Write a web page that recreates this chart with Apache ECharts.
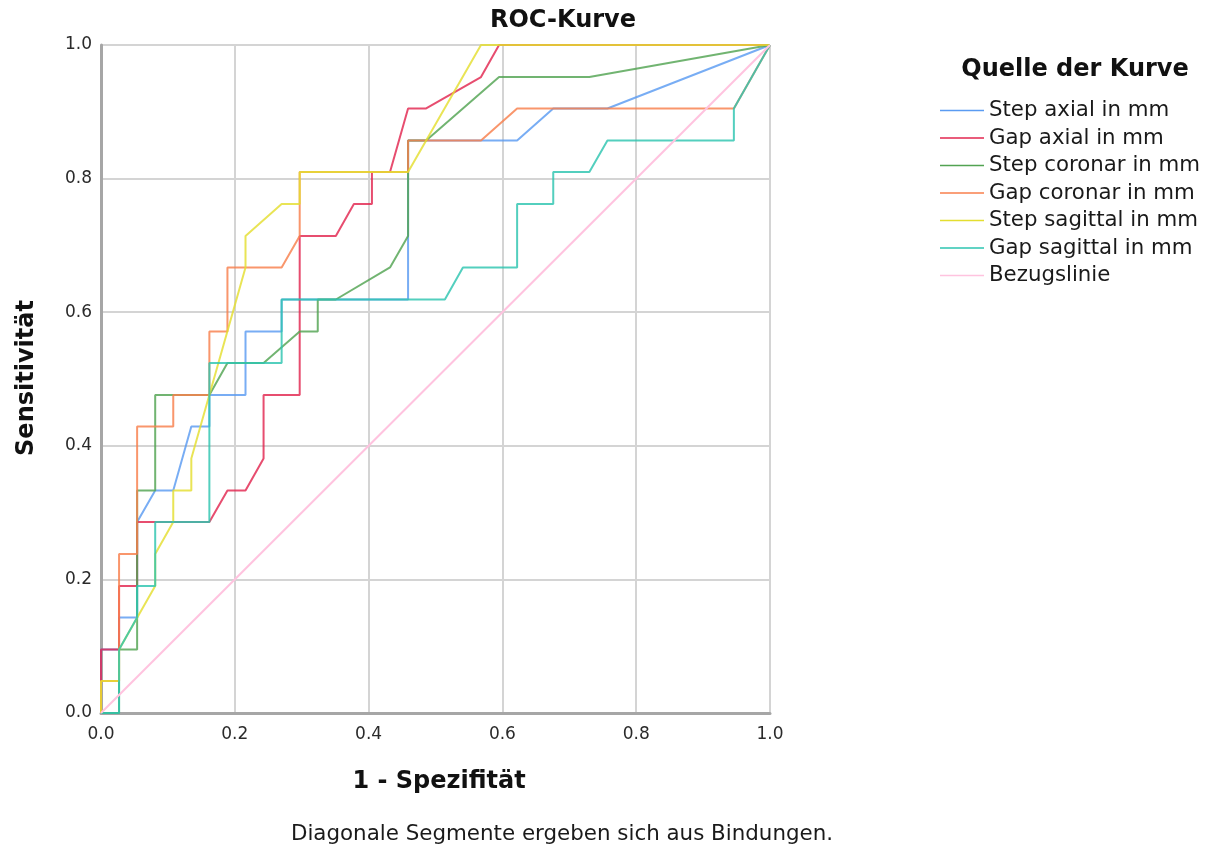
<!DOCTYPE html>
<html>
<head>
<meta charset="utf-8">
<title>ROC-Kurve</title>
<script src="https://cdn.jsdelivr.net/npm/echarts@6/dist/echarts.min.js"></script>
<style>
  html, body { margin: 0; padding: 0; background: #ffffff; }
  #chart { width: 1222px; height: 850px; }
</style>
</head>
<body>
<div id="chart"></div>
<script>
// Curve names as listed in the legend
const curveNames = [
  'Step axial in mm',
  'Gap axial in mm',
  'Step coronar in mm',
  'Gap coronar in mm',
  'Step sagittal in mm',
  'Gap sagittal in mm',
  'Bezugslinie'
];

// Axis tick labels
const tickValues = [0, 0.2, 0.4, 0.6, 0.8, 1.0];

// 1 - Spezifität (x) and Sensitivität (y) for each curve
const stepAxialFpr = [0, 0, 0.027, 0.027, 0.054, 0.054, 0.081, 0.108, 0.135, 0.162, 0.162, 0.216, 0.216, 0.270, 0.270, 0.459, 0.459, 0.622, 0.676, 0.757, 1];
const stepAxialTpr = [0, 0.095, 0.095, 0.143, 0.143, 0.286, 0.333, 0.333, 0.429, 0.429, 0.476, 0.476, 0.571, 0.571, 0.619, 0.619, 0.857, 0.857, 0.905, 0.905, 1];

const gapAxialFpr = [0, 0, 0.027, 0.027, 0.054, 0.054, 0.162, 0.189, 0.216, 0.243, 0.243, 0.297, 0.297, 0.351, 0.378, 0.405, 0.405, 0.432, 0.459, 0.486, 0.568, 0.595, 1];
const gapAxialTpr = [0, 0.095, 0.095, 0.190, 0.190, 0.286, 0.286, 0.333, 0.333, 0.381, 0.476, 0.476, 0.714, 0.714, 0.762, 0.762, 0.810, 0.810, 0.905, 0.905, 0.952, 1, 1];

const stepCoronarFpr = [0, 0.027, 0.027, 0.054, 0.054, 0.081, 0.081, 0.162, 0.189, 0.243, 0.297, 0.324, 0.324, 0.351, 0.432, 0.459, 0.459, 0.486, 0.595, 0.730, 1];
const stepCoronarTpr = [0, 0, 0.095, 0.095, 0.333, 0.333, 0.476, 0.476, 0.524, 0.524, 0.571, 0.571, 0.619, 0.619, 0.667, 0.714, 0.857, 0.857, 0.952, 0.952, 1];

const gapCoronarFpr = [0, 0, 0.027, 0.027, 0.054, 0.054, 0.108, 0.108, 0.162, 0.162, 0.189, 0.189, 0.270, 0.297, 0.297, 0.459, 0.459, 0.568, 0.622, 0.946, 1];
const gapCoronarTpr = [0, 0.048, 0.048, 0.238, 0.238, 0.429, 0.429, 0.476, 0.476, 0.571, 0.571, 0.667, 0.667, 0.714, 0.810, 0.810, 0.857, 0.857, 0.905, 0.905, 1];

const stepSagittalFpr = [0, 0, 0.027, 0.027, 0.081, 0.081, 0.108, 0.108, 0.135, 0.135, 0.216, 0.216, 0.270, 0.297, 0.297, 0.459, 0.568, 1];
const stepSagittalTpr = [0, 0.048, 0.048, 0.095, 0.190, 0.238, 0.286, 0.333, 0.333, 0.381, 0.667, 0.714, 0.762, 0.762, 0.810, 0.810, 1, 1];

const gapSagittalFpr = [0, 0.027, 0.027, 0.054, 0.054, 0.081, 0.081, 0.162, 0.162, 0.270, 0.270, 0.514, 0.541, 0.622, 0.622, 0.676, 0.676, 0.730, 0.757, 0.946, 0.946, 1];
const gapSagittalTpr = [0, 0, 0.095, 0.143, 0.190, 0.190, 0.286, 0.286, 0.524, 0.524, 0.619, 0.619, 0.667, 0.667, 0.762, 0.762, 0.810, 0.810, 0.857, 0.857, 0.905, 1];

const referenceFpr = [0, 1];
const referenceTpr = [0, 1];

const curveColors = ['#5a9bf2', '#e2264f', '#52a352', '#f87f4c', '#e4de30', '#2dc4b0', '#ffc3df'];

const curveData = [
  [stepAxialFpr, stepAxialTpr],
  [gapAxialFpr, gapAxialTpr],
  [stepCoronarFpr, stepCoronarTpr],
  [gapCoronarFpr, gapCoronarTpr],
  [stepSagittalFpr, stepSagittalTpr],
  [gapSagittalFpr, gapSagittalTpr],
  [referenceFpr, referenceTpr]
];

function pairs(xs, ys) {
  return xs.map((x, k) => [x, ys[k]]);
}

const series = curveNames.map((name, k) => ({
  name: name,
  type: 'line',
  data: pairs(curveData[k][0], curveData[k][1]),
  symbol: 'none',
  silent: true,
  z: 2 + k,
  lineStyle: { color: curveColors[k], width: 2, opacity: k === 6 ? 1 : 0.82 },
  itemStyle: { color: curveColors[k] }
}));

const baseFont = 'DejaVu Sans';

function valueAxis(labelMargin) {
  return {
    type: 'value',
    min: tickValues[0],
    max: tickValues[tickValues.length - 1],
    interval: 0.2,
    axisLine: { show: true, lineStyle: { color: '#a6a6a6', width: 3 } },
    axisTick: { show: false },
    splitLine: { show: true, lineStyle: { color: '#d4d4d4', width: 2 } },
    axisLabel: {
      fontFamily: baseFont,
      fontSize: 17,
      color: '#2a2a2a',
      margin: labelMargin,
      formatter: v => v.toFixed(1)
    }
  };
}

const chart = echarts.init(document.getElementById('chart'), null, { renderer: 'canvas' });

chart.setOption({
  animation: false,
  backgroundColor: '#ffffff',
  grid: { left: 101, top: 45, width: 669, height: 668, containLabel: false },
  xAxis: valueAxis(13),
  yAxis: valueAxis(9),
  legend: {
    orient: 'vertical',
    left: 940,
    top: 100,
    padding: 0,
    itemWidth: 44,
    itemHeight: 14,
    itemGap: 6.5,
    data: curveNames.map(n => ({ name: n, icon: 'path://M0,6.25L44,6.25L44,7.75L0,7.75Z' })),
    textStyle: { fontFamily: baseFont, fontSize: 21.3, color: '#1a1a1a', lineHeight: 20 },
    selectedMode: false
  },
  graphic: [
    {
      type: 'text', x: 563, y: 21,
      style: { text: 'ROC-Kurve', fontFamily: baseFont, fontWeight: 'bold', fontSize: 24, fill: '#111111', textAlign: 'center', textVerticalAlign: 'middle' }
    },
    {
      type: 'text', x: 1075, y: 70,
      style: { text: 'Quelle der Kurve', fontFamily: baseFont, fontWeight: 'bold', fontSize: 24, fill: '#111111', textAlign: 'center', textVerticalAlign: 'middle' }
    },
    {
      type: 'text', x: 27, y: 378, rotation: Math.PI / 2,
      style: { text: 'Sensitivität', fontFamily: baseFont, fontWeight: 'bold', fontSize: 24, fill: '#111111', textAlign: 'center', textVerticalAlign: 'middle' }
    },
    {
      type: 'text', x: 439, y: 782,
      style: { text: '1 - Spezifität', fontFamily: baseFont, fontWeight: 'bold', fontSize: 24, fill: '#111111', textAlign: 'center', textVerticalAlign: 'middle' }
    },
    {
      type: 'text', x: 562, y: 834,
      style: { text: 'Diagonale Segmente ergeben sich aus Bindungen.', fontFamily: baseFont, fontSize: 21.4, fill: '#1a1a1a', textAlign: 'center', textVerticalAlign: 'middle' }
    }
  ],
  series: series
});
</script>
</body>
</html>
